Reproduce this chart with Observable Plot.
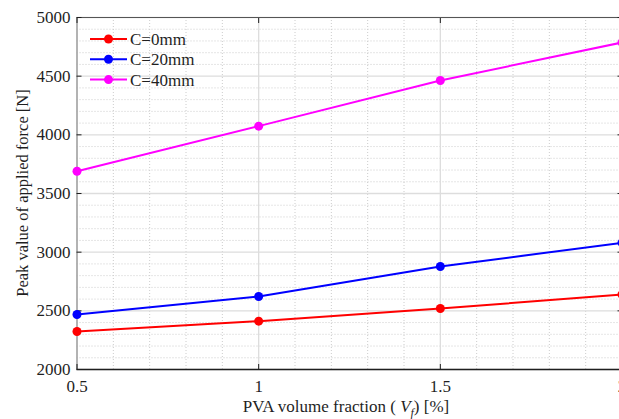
<!DOCTYPE html>
<html><head><meta charset="utf-8">
<script src="https://cdn.jsdelivr.net/npm/d3@7"></script>
<script src="https://cdn.jsdelivr.net/npm/@observablehq/plot@0.6"></script>
<style>
html,body{margin:0;padding:0;background:#fff;overflow:hidden;}
#chart{position:relative;width:619px;height:419px;overflow:hidden;}
#chart svg, #chart svg text, #chart svg tspan{font-family:"Liberation Serif" !important;}
</style></head><body><div id="chart"></div>
<script>
const fractions = [0.5, 1, 1.5, 2];
const seriesNames = ["C=0mm", "C=20mm", "C=40mm"];
const force0 = [2324, 2412, 2520, 2639];
const force20 = [2469, 2622, 2878, 3080];
const force40 = [3690, 4074, 4463, 4787];
const seriesColors = ["#ff0000", "#0000ff", "#ff00ff"];
const xTicks = [0.5, 1, 1.5, 2];
const xTickLabels = ["0.5", "1", "1.5", "2"];
const yTicks = [2000, 2500, 3000, 3500, 4000, 4500, 5000];
const yTickLabels = ["2000", "2500", "3000", "3500", "4000", "4500", "5000"];
const xMinor = d3.range(5, 21).filter(k => k % 5 !== 0).map(k => k / 10);
const yMinor = d3.range(20, 51).filter(k => k % 5 !== 0).map(k => k * 100);
const xLabelMain = "PVA volume fraction ( ";
const xLabelVar = "V";
const xLabelSub = "f";
const xLabelEnd = ") [%]";
const yLabel = "Peak value of applied force [N]";

const allSeries = [force0, force20, force40];
const data = allSeries.flatMap((vals, s) => fractions.map((f, i) => ({series: seriesNames[s], x: f, y: vals[i]})));

const FONT = "Liberation Serif";
const INK = "#1f1f1f";

const chart = Plot.plot({
  width: 619, height: 419,
  marginLeft: 76.5, marginRight: -2.5, marginTop: 17, marginBottom: 50,
  style: {fontFamily: FONT, fontSize: "17px", color: INK, background: "#fff", overflow: "hidden"},
  x: {domain: [0.5, 2], range: [76.5, 621.5]},
  y: {domain: [2000, 5000], range: [369, 17]},
  color: {domain: seriesNames, range: seriesColors},
  marks: [
    Plot.gridX(xMinor, {stroke: "#cccccc", strokeOpacity: 1, strokeDasharray: "1,2"}),
    Plot.gridY(yMinor, {stroke: "#cccccc", strokeOpacity: 1, strokeDasharray: "1,2"}),
    Plot.gridX(xTicks, {stroke: "#dddddd", strokeOpacity: 1, strokeWidth: 1.3}),
    Plot.gridY(yTicks, {stroke: "#dddddd", strokeOpacity: 1, strokeWidth: 1.3}),
    Plot.ruleY([5000], {stroke: "#555555", strokeWidth: 1.2}),
    Plot.ruleX([0.5], {stroke: "#a0a0a0", strokeWidth: 1.5}),
    Plot.ruleY([2000], {stroke: INK, strokeWidth: 1.5}),
    Plot.axisX(xTicks, {anchor: "bottom", tickSize: -5, tickPadding: 15, label: null,
      tickFormat: d => xTickLabels[xTicks.indexOf(d)], fontSize: 17, fontFamily: FONT, stroke: INK}),
    Plot.axisX(xTicks, {anchor: "top", tickSize: -5, label: null, tickFormat: () => "", stroke: INK}),
    Plot.axisY(yTicks, {anchor: "left", tickSize: -5, tickPadding: 11.5, label: null,
      tickFormat: d => yTickLabels[yTicks.indexOf(d)], fontSize: 17, fontFamily: FONT, stroke: INK}),
    Plot.axisY(yTicks, {anchor: "right", tickSize: -5, label: null, tickFormat: () => "", stroke: INK}),
    Plot.line(data, {x: "x", y: "y", z: "series", stroke: "series", strokeWidth: 2}),
    Plot.dot(data, {x: "x", y: "y", fill: "series", r: 4.5})
  ]
});

document.getElementById("chart").appendChild(chart);

const svg = d3.select(chart);
const xs = chart.scale("x");
const ys = chart.scale("y");

// x-axis label
const xl = svg.append("text")
  .attr("x", xs.apply(1.25) - 3).attr("y", 412)
  .attr("text-anchor", "middle")
  .attr("font-family", FONT).attr("font-size", 17).attr("fill", INK);
xl.append("tspan").text(xLabelMain);
xl.append("tspan").attr("font-style", "italic").text(xLabelVar);
xl.append("tspan").attr("font-style", "italic").attr("font-size", 12).attr("dy", 5).text(xLabelSub);
xl.append("tspan").attr("dy", -5).text(xLabelEnd);

// y-axis label
svg.append("text")
  .attr("transform", `translate(28,${ys.apply(3500)}) rotate(-90)`)
  .attr("text-anchor", "middle")
  .attr("font-family", FONT).attr("font-size", 16.5).attr("fill", INK)
  .text(yLabel);

// legend
const lg = svg.append("g").attr("font-family", FONT).attr("font-size", 17).attr("fill", INK);
seriesNames.forEach((name, i) => {
  const y = 39 + i * 20.3;
  lg.append("line").attr("x1", 90).attr("x2", 127).attr("y1", y).attr("y2", y)
    .attr("stroke", seriesColors[i]).attr("stroke-width", 2);
  lg.append("circle").attr("cx", 108.5).attr("cy", y).attr("r", 4.5).attr("fill", seriesColors[i]);
  lg.append("text").attr("x", 130).attr("y", y).attr("dy", "0.35em")
    .attr("text-anchor", "start").text(name);
});
</script>
</body></html>
